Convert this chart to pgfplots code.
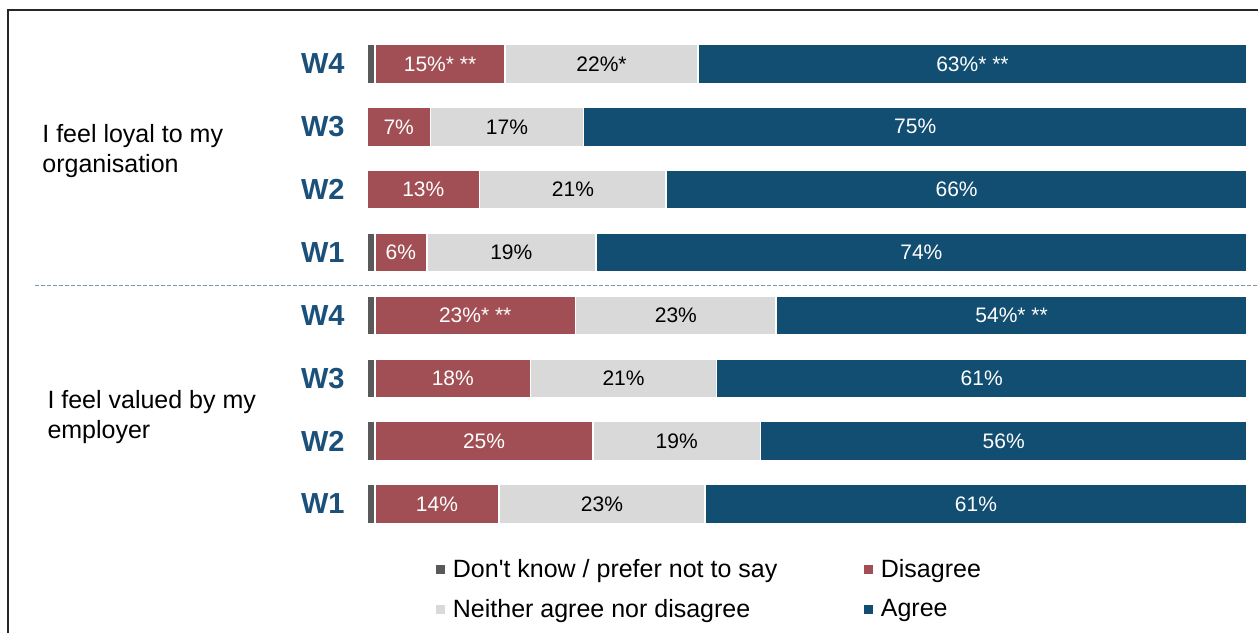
\documentclass[border=0pt]{standalone}
\usepackage{pgfplots}
\pgfplotsset{compat=1.18}
\usepackage{pgfplotstable}
\usepackage{fontspec}
\setmainfont{Liberation Sans}

\definecolor{dk}{HTML}{595959}
\definecolor{dis}{HTML}{A14F54}
\definecolor{nei}{HTML}{D9D9D9}
\definecolor{agr}{HTML}{124E72}
\definecolor{wlab}{HTML}{1A5079}
\definecolor{sepc}{HTML}{7E97AB}

% rows from bottom: 1-4 valued by employer (W1..W4), 5-8 loyal (W1..W4)
\pgfplotstableread{
y dk dis nei agr
1 0.9 14.1 23.4 61.6
2 0.9 24.8 19.0 55.3
3 0.9 17.7 21.1 60.3
4 0.9 22.8 22.8 53.5
5 0.9 5.9 19.2 74.0
6 0.0 12.8 21.2 66.0
7 0.0 7.2 17.4 75.4
8 0.9 14.8 21.9 62.4
}\bars

% label positions (segment centres)
\pgfplotstableread{
x y lab
7.95 1 {14\%}
13.3 2 {25\%}
9.75 3 {18\%}
12.3 4 {23\%*~**}
3.85 5 {6\%}
6.4 6 {13\%}
3.6 7 {7\%}
8.3 8 {15\%*~**}
}\dislab
\pgfplotstableread{
x y lab
26.7 1 {23\%}
35.2 2 {19\%}
29.15 3 {21\%}
35.1 4 {23\%}
16.4 5 {19\%}
23.4 6 {21\%}
15.9 7 {17\%}
26.65 8 {22\%*}
}\neilab
\pgfplotstableread{
x y lab
69.2 1 {61\%}
72.35 2 {56\%}
69.85 3 {61\%}
73.25 4 {54\%*~**}
63.0 5 {74\%}
67.0 6 {66\%}
62.3 7 {75\%}
68.8 8 {63\%*~**}
}\agrlab

\begin{document}
\begin{tikzpicture}
\useasboundingbox (-183.5pt,-48.3pt) rectangle (445.5pt,267.7pt);

\begin{axis}[
  at={(0,0)}, anchor=south west,
  scale only axis, width=440pt, height=251.45pt,
  xbar stacked, bar width=19.5pt,
  xmin=0, xmax=100, ymin=0.5, ymax=8.5,
  clip=false,
  axis line style={draw=none},
  xtick=\empty,
  ytick={1,...,8},
  yticklabels={W1,W2,W3,W4,W1,W2,W3,W4},
  major tick length=0pt,
  yticklabel style={font=\fontsize{14.5}{17}\selectfont\bfseries, text=wlab, inner sep=0pt, xshift=-11pt},
  legend columns=2,
  legend cell align=left,
  legend image code/.code={\path[#1, draw=none, fill] (0pt,-2.2pt) rectangle (4.4pt,2.2pt);
    \path[draw=none, fill=none] (0pt,0pt) -- (6.3pt,0pt);},
  legend style={draw=none, fill=none, at={(rel axis cs:0.0715,-0.03)}, anchor=north west,
    font=\fontsize{12.5}{15}\selectfont, row sep=5.5pt,
    /tikz/every even column/.append style={column sep=41.5pt}},
]
\addplot[fill=dk, draw=white, line width=0.8pt] table[x=dk,y=y]{\bars};
\addplot[fill=dis, draw=white, line width=0.8pt] table[x=dis,y=y]{\bars};
\addplot[fill=nei, draw=white, line width=0.8pt] table[x=nei,y=y]{\bars};
\addplot[fill=agr, draw=white, line width=0.8pt] table[x=agr,y=y]{\bars};
\legend{Don\textquotesingle t know / prefer not to say, Disagree, Neither agree nor disagree, Agree}

\draw[sepc, line width=0.7pt, dash pattern=on 2pt off 1pt] (axis cs:-37.7,4.48) -- (axis cs:101.3,4.48);
\node[anchor=west, align=left, inner sep=0pt, font=\fontsize{12.5}{15}\selectfont] at (axis cs:-36.93,6.61) {I feel loyal to my\\organisation};
\node[anchor=west, align=left, inner sep=0pt, font=\fontsize{12.5}{15}\selectfont] at (axis cs:-36.35,2.39) {I feel valued by my\\employer};
\end{axis}

\begin{axis}[
  at={(0,0)}, anchor=south west,
  scale only axis, width=440pt, height=251.45pt,
  xmin=0, xmax=100, ymin=0.5, ymax=8.5,
  hide axis, clip=false,
  point meta=explicit symbolic,
  nodes near coords,
  nodes near coords style={anchor=center, font=\fontsize{10.5}{12}\selectfont},
]
\addplot[draw=none, mark=none, nodes near coords style={text=white}] table[x=x,y=y,meta=lab]{\dislab};
\addplot[draw=none, mark=none, nodes near coords style={text=black}] table[x=x,y=y,meta=lab]{\neilab};
\addplot[draw=none, mark=none, nodes near coords style={text=white}] table[x=x,y=y,meta=lab]{\agrlab};
\end{axis}

\draw[black!85, line width=1pt] (-179.5pt,-60pt) -- (-179.5pt,262.7pt) -- (460pt,262.7pt);
\end{tikzpicture}
\end{document}
